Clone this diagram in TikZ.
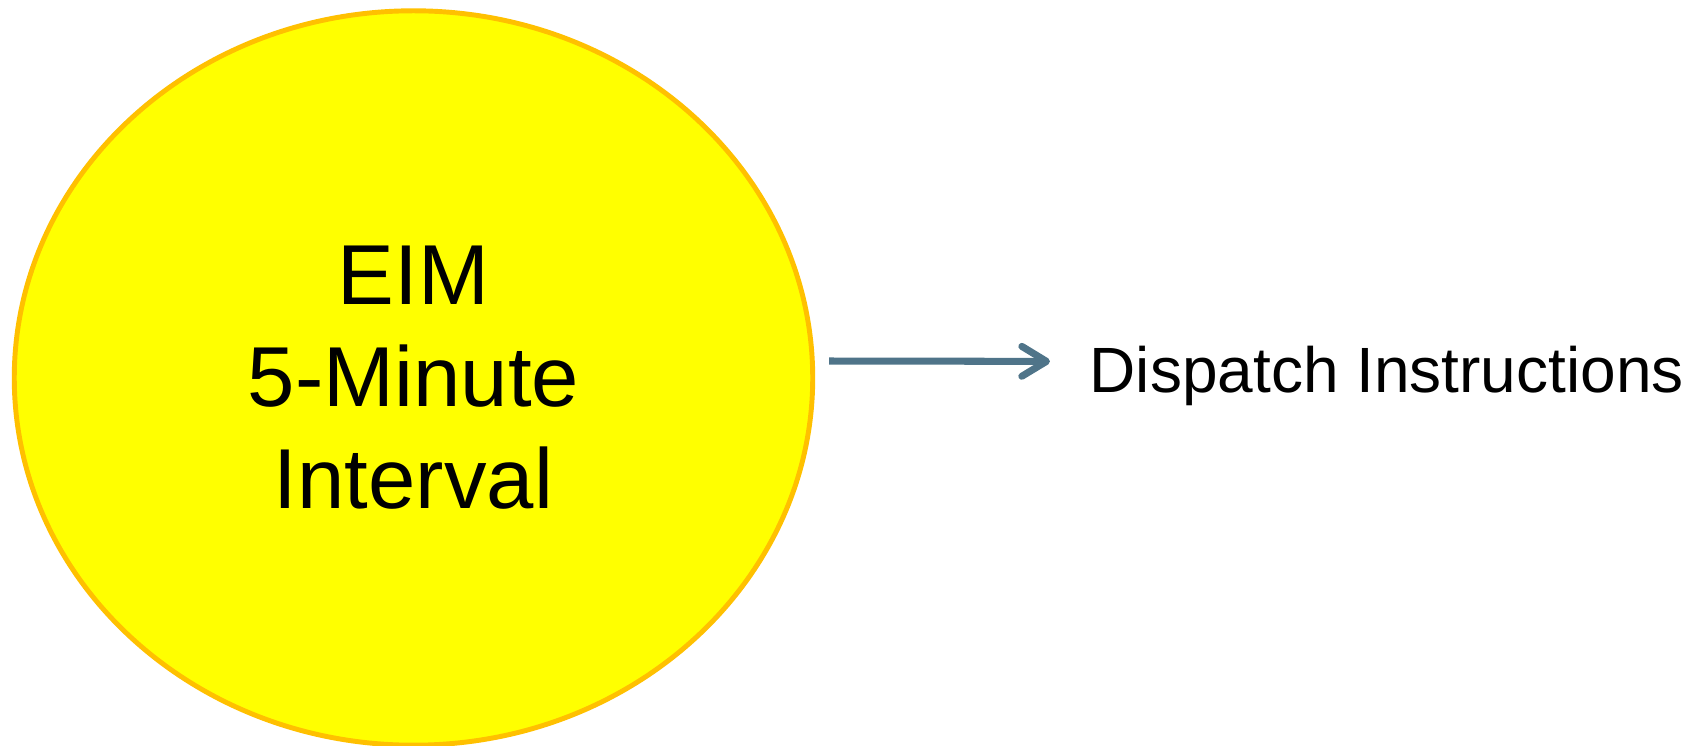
\documentclass[tikz,border=0pt]{standalone}
\usepackage{fontspec}
\setmainfont{Liberation Sans}
\usepackage{tikz}
\usetikzlibrary{arrows.meta,shapes,positioning}
\definecolor{amarillo}{RGB}{255,255,0}
\definecolor{dorado}{RGB}{255,192,0}
\definecolor{azulGris}{RGB}{79,116,137}
\tikzstyle{elipse}=[ellipse, draw=dorado, fill=amarillo,
                    line width=1.4pt, inner sep=0pt,
                    minimum width=7.98cm, minimum height=7.34cm,
                    align=center, font=\fontsize{24.2}{29}\selectfont]
\tikzstyle{flecha}=[-{Straight Barb[length=7pt,width=8.5pt,round]},
                    draw=azulGris, line width=2pt,
                    shorten <=0.14cm, shorten >=0.39cm]
\tikzstyle{texto}=[inner sep=0pt, font=\fontsize{18.2}{22}\selectfont]

\begin{document}
\begin{tikzpicture}[x=0.01cm,y=-0.01cm]
    \useasboundingbox (0,0) rectangle (1702,746);

    \draw (413.5,378) node (eim) [elipse] {EIM\\5-Minute\\Interval};
    \draw (1089,393) node (disp) [texto, anchor=base west] {Dispatch Instructions};

    \draw [flecha] ([yshift=0.17cm]eim.east) to ([yshift=0.15cm]disp.west);
\end{tikzpicture}
\end{document}
